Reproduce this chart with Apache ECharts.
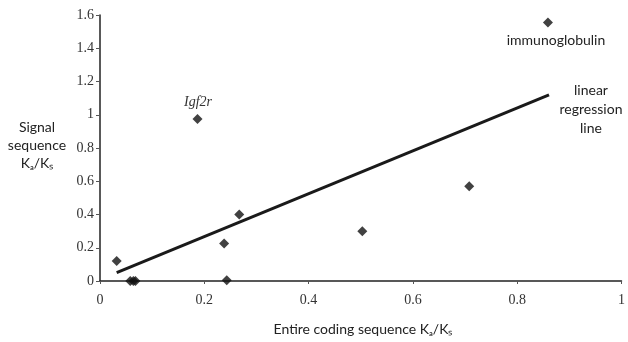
<!DOCTYPE html>
<html><head><meta charset="utf-8">
<script src="https://cdn.jsdelivr.net/npm/echarts@6/dist/echarts.min.js"></script>
<style>html,body{margin:0;padding:0;background:#fff}#c{width:628px;height:342px}</style>
</head><body><div id="c"></div>
<script>
const pointsX = [0.032, 0.058, 0.064, 0.068, 0.187, 0.238, 0.243, 0.267, 0.503, 0.708, 0.859];
const pointsY = [0.12, 0.0, 0.0, 0.0, 0.975, 0.225, 0.005, 0.40, 0.30, 0.57, 1.555];
const regX = [0.032, 0.861];
const regY = [0.05, 1.12];
const xTicks = [0, 0.2, 0.4, 0.6, 0.8, 1];
const yTicks = [0, 0.2, 0.4, 0.6, 0.8, 1, 1.2, 1.4, 1.6];

const font = 'Liberation Serif';
const sans = 'Lato';
const chart = echarts.init(document.getElementById('c'));
chart.setOption({
  animation: false,
  grid: {left: 100, right: 3, top: 15, bottom: 61},
  xAxis: {
    type: 'value', min: 0, max: 1, interval: 0.2,
    axisLine: {show: true, lineStyle: {color: '#222', width: 1.5}},
    axisTick: {show: true, length: 3, lineStyle: {color: '#555'}},
    splitLine: {show: false},
    axisLabel: {color: '#333', fontFamily: font, fontSize: 14, margin: 12,
      formatter: v => xTicks.includes(Math.round(v*10)/10) ? String(Math.round(v*10)/10) : ''}
  },
  yAxis: {
    type: 'value', min: 0, max: 1.6, interval: 0.2,
    axisLine: {show: true, lineStyle: {color: '#222', width: 1.5}},
    axisTick: {show: true, length: 4, lineStyle: {color: '#555'}},
    splitLine: {show: false},
    axisLabel: {color: '#333', fontFamily: font, fontSize: 14, margin: 6,
      formatter: v => { const r = Math.round(v*10)/10; return yTicks.includes(r) ? String(r) : ''; }}
  },
  series: [
    {type: 'line', data: regX.map((x, i) => [x, regY[i]]), symbol: 'none',
     lineStyle: {color: '#1a1a1a', width: 3}, z: 2},
    {type: 'scatter', data: pointsX.map((x, i) => [x, pointsY[i]]), symbol: 'diamond',
     symbolSize: 10, itemStyle: {color: '#111'}, z: 3}
  ],
  graphic: [
    {type: 'text', x: 37, y: 118, style: {text: 'Signal\nsequence\nKₐ/Kₛ', fill: '#222', font: '14px ' + sans, textAlign: 'center', lineHeight: 18}},
    {type: 'text', x: 198, y: 102, style: {text: 'Igf2r', fill: '#333', font: 'italic 14px ' + font, textAlign: 'center', textVerticalAlign: 'middle'}},
    {type: 'text', x: 556, y: 40, style: {text: 'immunoglobulin', fill: '#222', font: '14px ' + sans, textAlign: 'center', textVerticalAlign: 'middle'}},
    {type: 'text', x: 591, y: 81, style: {text: 'linear\nregression\nline', fill: '#222', font: '14px ' + sans, textAlign: 'center', lineHeight: 19}},
    {type: 'text', x: 363, y: 329, style: {text: 'Entire coding sequence Kₐ/Kₛ', fill: '#222', font: '14px ' + sans, textAlign: 'center', textVerticalAlign: 'middle'}}
  ]
});
</script></body></html>
